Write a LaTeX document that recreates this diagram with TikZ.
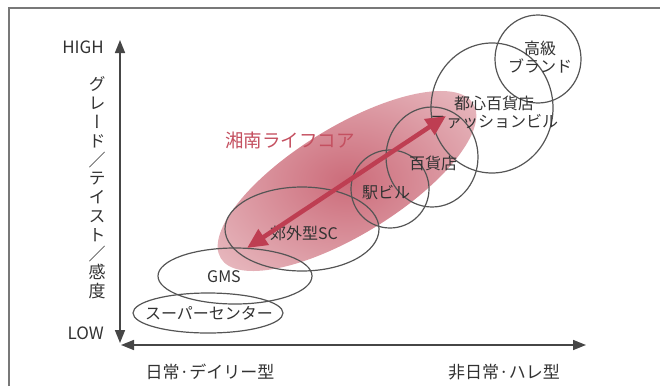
\documentclass[tikz,border=0pt]{standalone}
\usepackage{fontspec}
\setmainfont{Noto Sans CJK JP}
\newfontfamily\vjp[Vertical=Alternates]{Noto Sans CJK JP}
\usetikzlibrary{arrows.meta,shapes.geometric}
\definecolor{framegray}{RGB}{120,120,120}
\definecolor{axisgray}{RGB}{70,70,70}
\definecolor{linegray}{RGB}{85,85,85}
\definecolor{txtgray}{RGB}{50,50,50}
\definecolor{arrowred}{RGB}{190,62,82}
\definecolor{titlered}{RGB}{196,80,96}
\definecolor{pkA}{RGB}{204,108,122}
\definecolor{pkB}{RGB}{218,148,158}
\definecolor{pkC}{RGB}{238,204,208}
\definecolor{pkD}{RGB}{250,234,236}
\pgfdeclareradialshading{pinkglow}{\pgfpoint{0bp}{0bp}}{color(0bp)=(pkA); color(16bp)=(pkB); color(38bp)=(pkC); color(50bp)=(pkD)}
\tikzset{
  axisline/.style={draw=axisgray, line width=1.6pt},
  framel/.style={draw=framegray, line width=1.3pt},
  zone/.style={draw=linegray, line width=1.2pt, ellipse, inner sep=0pt},
  lbl/.style={text=txtgray, font=\fontsize{16}{18}\selectfont, inner sep=0pt},
  axlbl/.style={text=txtgray, font=\fontsize{17}{19}\selectfont, inner sep=0pt}
}
\begin{document}
\begin{tikzpicture}[x=1pt,y=-1pt]
\useasboundingbox (0,0) rectangle (660,386);
% frame
\coordinate (fTL) at (9,8);
\coordinate (fTR) at (660,8);
\coordinate (fBL) at (9,386);
\draw[framel] (fBL) -- (fTL) -- (fTR);
% shonan life core zone
\shade[shading=pinkglow, rotate around={31.5:(347,181)}] (347,181) ellipse [x radius=148, y radius=54];
% axes
\coordinate (yTop) at (120,40);
\coordinate (yBot) at (120,343);
\coordinate (xLeft) at (121,345);
\coordinate (xRight) at (586,345);
\draw[axisline, {Triangle[length=13pt,width=10pt]}-{Triangle[length=13pt,width=10pt]}] (yTop) -- (yBot);
\draw[axisline, {Triangle[length=13pt,width=10pt]}-{Triangle[length=13pt,width=10pt]}] (xLeft) -- (xRight);
\node[axlbl, anchor=east] (high) at (104,47) {HIGH};
\node[axlbl, anchor=east] (low) at (104,333) {LOW};
\node[axlbl] (xl) at (210,372) {日常·デイリー型};
\node[axlbl] (xr) at (504,372) {非日常·ハレ型};
\node[text=txtgray, font=\vjp\fontsize{17}{18.8}\selectfont, align=center, inner sep=0pt] (ylab) at (97,188)
  {グ\\レ\\ー\\ド\\／\\テ\\イ\\ス\\ト\\／\\感\\度};
% zones
\node[zone, minimum width=150pt, minimum height=40pt] (sc) at (208,313) {};
\node[zone, minimum width=154pt, minimum height=56pt] (gms) at (235,276) {};
\node[zone, minimum width=154pt, minimum height=84pt] (kogai) at (302,229) {};
\node[zone, minimum width=78pt, minimum height=78pt] (eki) at (390,189) {};
\node[zone, minimum width=92pt, minimum height=100pt] (hyak) at (432,157) {};
\node[zone, minimum width=122pt, minimum height=130pt] (toshin) at (492,108) {};
\node[zone, minimum width=86pt, minimum height=88pt] (koukyu) at (538,59) {};
% labels
\node[lbl] (tsc) at (209,313) {スーパーセンター};
\node[lbl] (tgms) at (224,277) {GMS};
\node[lbl] (tkogai) at (304,233) {郊外型SC};
\node[lbl] (teki) at (386,193) {駅ビル};
\node[lbl] (thyak) at (433,163) {百貨店};
\node[lbl, align=center] (ttoshin) at (494,112) {都心百貨店\\ファッションビル};
\node[lbl, align=center] (tkoukyu) at (540,57) {高級\\ブランド};
\node[text=titlered, font=\fontsize{18.5}{20}\selectfont, inner sep=0pt] (shonan) at (290,140) {湘南ライフコア};
% double arrow
\coordinate (aL) at (247,248);
\coordinate (aR) at (446,116);
\draw[draw=arrowred, fill=arrowred, line width=4.5pt, {Triangle[length=20pt,width=18pt]}-{Triangle[length=20pt,width=18pt]}] (aL) -- (aR);
\end{tikzpicture}
\end{document}
